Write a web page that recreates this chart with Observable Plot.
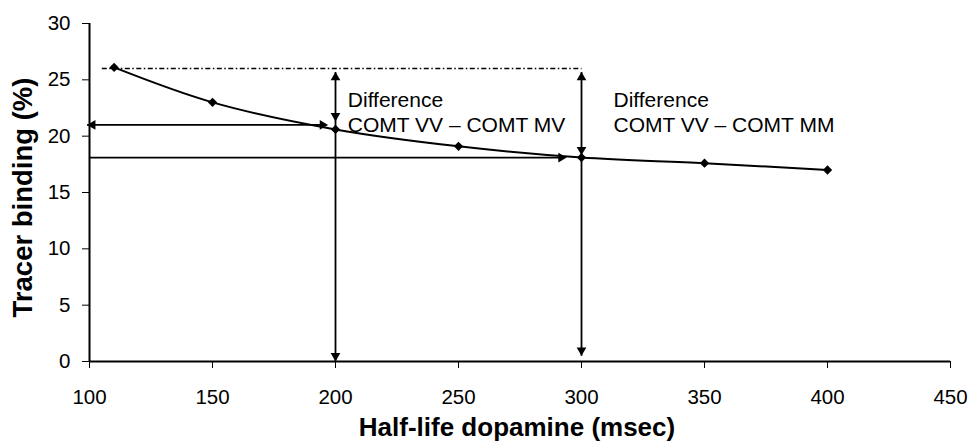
<!DOCTYPE html>
<html>
<head>
<meta charset="utf-8">
<script src="https://cdn.jsdelivr.net/npm/d3@7"></script>
<script src="https://cdn.jsdelivr.net/npm/@observablehq/plot@0.6"></script>
<style>
  html, body { margin: 0; padding: 0; background: #fff; }
</style>
</head>
<body>
<div id="chart"></div>
<script>
// Data
const halfLife = [110, 150, 200, 250, 300, 350, 400];
const binding = [26.1, 23.0, 20.6, 19.1, 18.1, 17.6, 17.0];
const xTicks = [100, 150, 200, 250, 300, 350, 400, 450];
const yTicks = [0, 5, 10, 15, 20, 25, 30];
const xTitle = "Half-life dopamine (msec)";
const yTitle = "Tracer binding (%)";

// Reference level (COMT VV)
const refLevel = [26.0];
const refFrom = [105];
const refTo = [300];

// Horizontal guide arrows
const hY = [21.0, 18.1];
const hFrom = [99, 100];
const hTo = [197, 294];
const hLeftHead = [true, false];

// Vertical guide arrows
const vX = [200, 300];
const vTop = [25.7, 25.7];
const vDiffTip = [21.3, 18.3];
const vBottom = [0, 0.5];

// Labels
const labelText = ["Difference\nCOMT VV \u2013 COMT MV", "Difference\nCOMT VV \u2013 COMT MM"];
const labelX = [205, 313];
const labelY = [24.2, 24.2];

const pts = halfLife.map((x, i) => ({x, y: binding[i]}));
const refRows = refLevel.map((y, i) => ({y, x1: refFrom[i], x2: refTo[i]}));
const hRows = hY.map((y, i) => ({y, x1: hFrom[i], x2: hTo[i], left: hLeftHead[i]}));
const vRows = vX.map((x, i) => ({x, y1: vTop[i], y2: vBottom[i], tip: vDiffTip[i]}));
const labels = labelText.map((t, i) => ({t, x: labelX[i], y: labelY[i]}));

const upHeads = vRows.map(d => ({x: d.x, y: d.y1}));
const downHeads = vRows.flatMap(d => [{x: d.x, y: d.tip}, {x: d.x, y: d.y2}]);
const rightHeads = hRows.map(d => ({x: d.x2, y: d.y}));
const leftHeads = hRows.filter(d => d.left).map(d => ({x: d.x1, y: d.y}));

const R = 3.6, OFF = 5.6;

const chart = Plot.plot({
  width: 969,
  height: 442,
  marginLeft: 89,
  marginRight: 19,
  marginTop: 23,
  marginBottom: 81,
  style: {fontSize: "20.5px", fontFamily: "'Liberation Sans', Arial, sans-serif", color: "#000", background: "#fff"},
  x: {domain: [100, 450], ticks: xTicks, tickSize: 7, tickPadding: 21, label: null},
  y: {domain: [0, 30], ticks: yTicks, tickSize: 7, tickPadding: 12, label: null},
  marks: [
    Plot.ruleX([100], {stroke: "#000", strokeWidth: 2}),
    Plot.ruleY([0], {stroke: "#000", strokeWidth: 2}),
    // dashed reference
    Plot.link(refRows, {x1: "x1", x2: "x2", y1: "y", y2: "y", stroke: "#000", strokeWidth: 1.6, strokeDasharray: "5,2.5,1.5,2.5"}),
    // horizontal arrows
    Plot.link(hRows, {x1: "x1", x2: d => d.x2 - 2, y1: "y", y2: "y", stroke: "#000", strokeWidth: 1.8}),
    // vertical arrows
    Plot.link(vRows, {x1: "x", x2: "x", y1: "y1", y2: "y2", stroke: "#000", strokeWidth: 1.8}),
    // arrowheads
    Plot.dot(upHeads, {x: "x", y: "y", symbol: "triangle", r: R, fill: "#000", stroke: null, dy: OFF}),
    Plot.dot(downHeads, {x: "x", y: "y", symbol: "triangle", r: R, fill: "#000", stroke: null, rotate: 180, dy: -OFF}),
    Plot.dot(rightHeads, {x: "x", y: "y", symbol: "triangle", r: R, fill: "#000", stroke: null, rotate: 90, dx: -OFF}),
    Plot.dot(leftHeads, {x: "x", y: "y", symbol: "triangle", r: R, fill: "#000", stroke: null, rotate: -90, dx: OFF}),
    // curve
    Plot.line(pts, {x: "x", y: "y", curve: "catmull-rom", stroke: "#000", strokeWidth: 2}),
    Plot.dot(pts, {x: "x", y: "y", symbol: "diamond2", r: 4.2, fill: "#000", stroke: null}),
    // labels
    Plot.text(labels, {x: "x", y: "y", text: "t", textAnchor: "start", lineAnchor: "top", lineHeight: 1.2, fontSize: 21, fill: "#000"}),
    // titles
    Plot.text([xTitle], {frameAnchor: "bottom", text: d => d, textAnchor: "middle", lineAnchor: "middle", dy: 66.5, dx: -3, fontSize: 26, fontWeight: "bold", fill: "#000"}),
    Plot.text([yTitle], {frameAnchor: "left", text: d => d, textAnchor: "middle", lineAnchor: "middle", rotate: -90, dx: -66.5, dy: 5, fontSize: 27.5, fontWeight: "bold", fill: "#000"})
  ]
});
document.getElementById("chart").appendChild(chart);
</script>
</body>
</html>
